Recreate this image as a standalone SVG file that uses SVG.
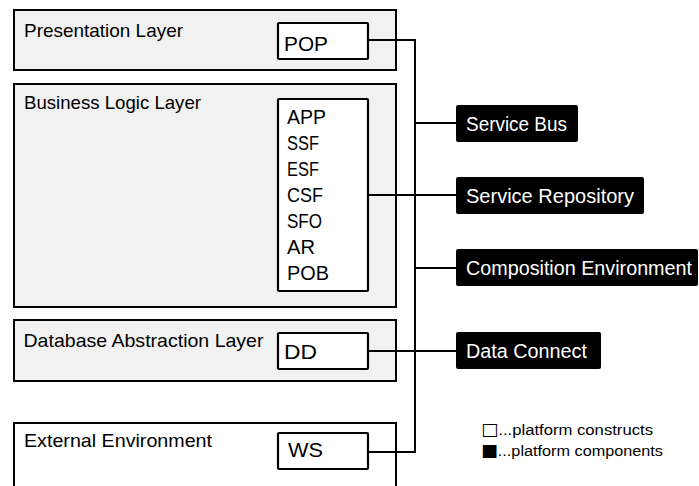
<svg xmlns="http://www.w3.org/2000/svg" width="699" height="486" viewBox="0 0 699 486">
<style>
  .layer { fill: #f1f1f1; stroke: #000; stroke-width: 2; }
  .layer-w { fill: #ffffff; stroke: #000; stroke-width: 2; }
  .inner { fill: #ffffff; stroke: #000; stroke-width: 2.2; }
  .comp { fill: #000000; stroke: none; }
  .lt { font-family: "Liberation Sans", Arial, sans-serif; font-size: 18.5px; fill: #000; }
  .it { font-family: "Liberation Sans", Arial, sans-serif; font-size: 20px; fill: #000; }
  .ct { font-family: "Liberation Sans", Arial, sans-serif; font-size: 20px; fill: #ffffff; }
  .lg { font-family: "Liberation Sans", "DejaVu Sans", Arial, sans-serif; font-size: 15.5px; fill: #000; }
  .sq { font-family: "DejaVu Sans", sans-serif; font-size: 17px; }
  .conn { fill: none; stroke: #000; stroke-width: 2; }
</style>
<rect width="699" height="486" fill="#ffffff"/>

<g id="presentation-layer">
  <rect class="layer" x="14" y="10" width="382" height="60"/>
  <text class="lt" x="24" y="36.5" textLength="159" lengthAdjust="spacingAndGlyphs">Presentation Layer</text>
</g>
<g id="pop">
  <rect class="inner" x="278" y="23" width="90" height="36" rx="1"/>
  <text class="it" x="284" y="50.5" textLength="44" lengthAdjust="spacingAndGlyphs">POP</text>
</g>

<g id="business-logic-layer">
  <rect class="layer" x="14" y="84" width="382" height="223"/>
  <text class="lt" x="24" y="109" textLength="177" lengthAdjust="spacingAndGlyphs">Business Logic Layer</text>
</g>
<g id="business-components">
  <rect class="inner" x="278" y="99" width="90" height="192" rx="1"/>
  <text class="it" x="287" y="124" textLength="39" lengthAdjust="spacingAndGlyphs">APP</text>
  <text class="it" x="287" y="150" textLength="32" lengthAdjust="spacingAndGlyphs">SSF</text>
  <text class="it" x="287" y="176" textLength="32" lengthAdjust="spacingAndGlyphs">ESF</text>
  <text class="it" x="287" y="202" textLength="36" lengthAdjust="spacingAndGlyphs">CSF</text>
  <text class="it" x="287" y="228" textLength="35" lengthAdjust="spacingAndGlyphs">SFO</text>
  <text class="it" x="287" y="254" textLength="28" lengthAdjust="spacingAndGlyphs">AR</text>
  <text class="it" x="287" y="280" textLength="42" lengthAdjust="spacingAndGlyphs">POB</text>
</g>

<g id="database-abstraction-layer">
  <rect class="layer" x="14" y="320" width="382" height="61"/>
  <text class="lt" x="23.5" y="346.5" textLength="240" lengthAdjust="spacingAndGlyphs">Database Abstraction Layer</text>
</g>
<g id="dd">
  <rect class="inner" x="278" y="333" width="90" height="36" rx="1"/>
  <text class="it" x="284" y="359" textLength="33" lengthAdjust="spacingAndGlyphs">DD</text>
</g>

<g id="external-environment">
  <rect class="layer-w" x="14" y="423" width="382" height="80"/>
  <text class="lt" x="24" y="446.5" textLength="188" lengthAdjust="spacingAndGlyphs">External Environment</text>
</g>
<g id="ws">
  <rect class="inner" x="278" y="433" width="90" height="36" rx="1"/>
  <text class="it" x="288" y="457" textLength="35" lengthAdjust="spacingAndGlyphs">WS</text>
</g>

<g id="connectors">
  <path class="conn" d="M368,40 H415 V452 H368"/>
  <path class="conn" d="M415,123 H456"/>
  <path class="conn" d="M368,195 H456"/>
  <path class="conn" d="M415,268 H456"/>
  <path class="conn" d="M368,351 H456"/>
</g>

<g id="service-bus">
  <rect class="comp" x="456" y="105" width="122" height="37" rx="2"/>
  <text class="ct" x="466" y="130.5" textLength="101" lengthAdjust="spacingAndGlyphs">Service Bus</text>
</g>
<g id="service-repository">
  <rect class="comp" x="456" y="177" width="188" height="37" rx="2"/>
  <text class="ct" x="466" y="203" textLength="168" lengthAdjust="spacingAndGlyphs">Service Repository</text>
</g>
<g id="composition-environment">
  <rect class="comp" x="456" y="249" width="242" height="37" rx="2"/>
  <text class="ct" x="466" y="275" textLength="226" lengthAdjust="spacingAndGlyphs">Composition Environment</text>
</g>
<g id="data-connect">
  <rect class="comp" x="456" y="332" width="145" height="37" rx="2"/>
  <text class="ct" x="466" y="358" textLength="121" lengthAdjust="spacingAndGlyphs">Data Connect</text>
</g>

<g id="legend">
  <text class="lg" x="481" y="435" textLength="172" lengthAdjust="spacingAndGlyphs"><tspan class="sq">□</tspan>...platform constructs</text>
  <text class="lg" x="481" y="455.5" textLength="182" lengthAdjust="spacingAndGlyphs"><tspan class="sq">■</tspan>...platform components</text>
</g>
</svg>
